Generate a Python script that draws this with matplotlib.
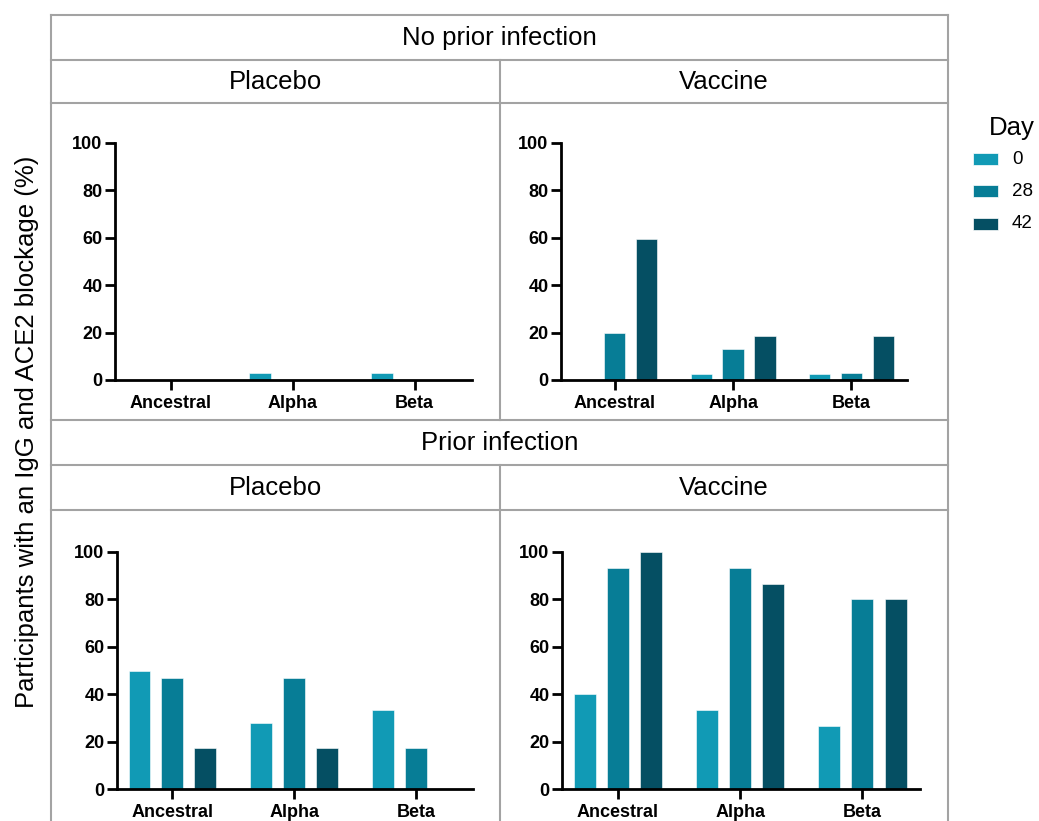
import matplotlib
matplotlib.use("Agg")
import matplotlib.pyplot as plt
from matplotlib.patches import Rectangle
from matplotlib.lines import Line2D
import numpy as np

plt.rcParams['font.family'] = ['Liberation Sans', 'DejaVu Sans']

variants = ["Ancestral", "Alpha", "Beta"]
days = ["0", "28", "42"]
colors = ["#119AB5", "#077D96", "#054F63"]

# values[day] per variant
nopi_placebo = {"0": [0, 3, 3], "28": [0, 0, 0], "42": [0, 0, 0]}
nopi_vaccine = {"0": [0, 2.5, 2.5], "28": [20, 13, 3], "42": [59.5, 18.5, 18.5]}
pi_placebo = {"0": [50, 28, 33.3], "28": [47, 47, 17.5], "42": [17.5, 17.5, 0]}
pi_vaccine = {"0": [40, 33.3, 26.7], "28": [93.3, 93.3, 80], "42": [100, 86.7, 80]}

row_titles = ["No prior infection", "Prior infection"]
col_titles = ["Placebo", "Vaccine"]
yticks = [0, 20, 40, 60, 80, 100]

W, H = 1039, 821
fig = plt.figure(figsize=(W / 100, H / 100), dpi=100)


def rect(l, r, t, b):
    return [l / W, 1 - b / H, (r - l) / W, (b - t) / H]


def panel(pos, data):
    ax = fig.add_axes(rect(*pos))
    x = np.arange(len(variants))
    bw = 0.18
    offs = [-0.27, 0.0, 0.27]
    for d, c, o in zip(days, colors, offs):
        ax.bar(x + o, data[d], width=bw, color=c, edgecolor="white", linewidth=0.4)
    ax.set_xlim(-0.455, 2.47)
    ax.set_ylim(0, 100)
    ax.set_yticks(yticks)
    ax.set_xticks(x)
    ax.set_xticklabels(variants)
    for s in ["top", "right"]:
        ax.spines[s].set_visible(False)
    for s in ["left", "bottom"]:
        ax.spines[s].set_linewidth(2)
    ax.tick_params(axis="both", length=7, width=2, labelsize=13)
    ax.tick_params(axis="x", pad=4)
    ax.tick_params(axis="y", pad=2)
    for lab in ax.get_xticklabels() + ax.get_yticklabels():
        lab.set_fontweight("bold")
    ax.patch.set_alpha(0)
    return ax


panel((115, 472, 143, 380), nopi_placebo)
panel((561, 907, 143, 380), nopi_vaccine)
panel((117, 473, 552, 789), pi_placebo)
panel((562, 920, 552, 789), pi_vaccine)

gray = "#a3a3a3"


def hline(x0, x1, y):
    fig.add_artist(Line2D([x0 / W, x1 / W], [1 - y / H, 1 - y / H], color=gray, lw=1.5,
                          transform=fig.transFigure))


def vline(x, y0, y1):
    fig.add_artist(Line2D([x / W, x / W], [1 - y0 / H, 1 - y1 / H], color=gray, lw=1.5,
                          transform=fig.transFigure))


L, M, R = 51, 500, 948
for y in [15, 60, 103, 420, 465, 510]:
    hline(L, R, y)
vline(L, 15, 830)
vline(R, 15, 830)
vline(M, 60, 420)
vline(M, 465, 830)

fs_strip = 18.5
fig.text((L + R) / 2 / W, 1 - 38 / H, row_titles[0], ha="center", va="center", fontsize=fs_strip)
fig.text((L + R) / 2 / W, 1 - 443 / H, row_titles[1], ha="center", va="center", fontsize=fs_strip)
for yc in [82, 488]:
    fig.text((L + M) / 2 / W, 1 - yc / H, col_titles[0], ha="center", va="center", fontsize=fs_strip)
    fig.text((M + R) / 2 / W, 1 - yc / H, col_titles[1], ha="center", va="center", fontsize=fs_strip)

fig.text(27 / W, 1 - 432 / H, "Participants with an IgG and ACE2 blockage (%)", rotation=90,
         ha="center", va="center", fontsize=18.5)

# legend drawn manually
fig.text(1035 / W, 1 - 128 / H, "Day", ha="right", va="center", fontsize=18.5)
for i, (d, c) in enumerate(zip(days, colors)):
    yc = 159 + 32.5 * i
    fig.add_artist(Rectangle((973 / W, 1 - (yc + 6) / H), 25 / W, 12 / H, facecolor=c,
                             edgecolor="white", lw=0.5, transform=fig.transFigure))
    fig.text(1012 / W, 1 - yc / H, d, ha="left", va="center", fontsize=13.5)

fig.savefig("out.png", dpi=100)
